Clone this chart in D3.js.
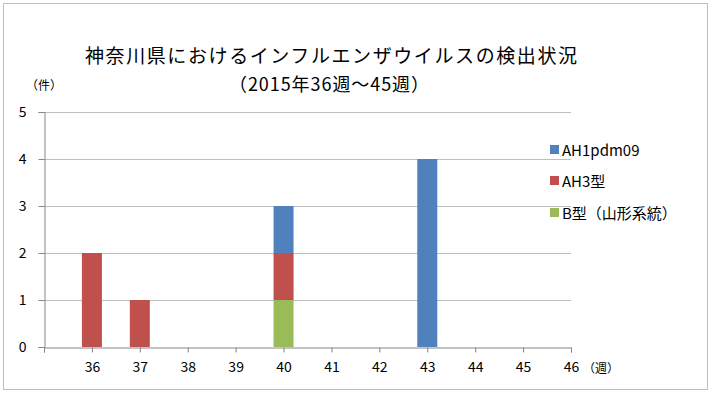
<!DOCTYPE html>
<html>
<head>
<meta charset="utf-8">
<script src="https://cdn.jsdelivr.net/npm/d3@7"></script>
<style>
  body { margin: 0; background: #fff; }
  text { font-family: "Noto Sans CJK JP", "Noto Sans", sans-serif; fill: #000; }
</style>
</head>
<body>
<svg id="chart" width="714" height="396"></svg>
<script>
const weeks = [36, 37, 38, 39, 40, 41, 42, 43, 44, 45];
const seriesNames = ['B型（山形系統）', 'AH3型', 'AH1pdm09'];
const bYamagata = [0, 0, 0, 0, 1, 0, 0, 0, 0, 0];
const ah3 = [2, 1, 0, 0, 1, 0, 0, 0, 0, 0];
const ah1pdm09 = [0, 0, 0, 0, 1, 0, 0, 4, 0, 0];
const xTicks = [36, 37, 38, 39, 40, 41, 42, 43, 44, 45, 46];
const yTicks = [0, 1, 2, 3, 4, 5];
const colors = ['#9bbb59', '#c0504d', '#4f81bd'];

const svg = d3.select('#chart');

// outer frame
svg.append('rect')
    .attr('x', 3.5).attr('y', 3.5)
    .attr('width', 704).attr('height', 386)
    .attr('fill', 'none').attr('stroke', '#bfbfbf');

const xScale = d3.scaleLinear().domain([35, 46]).range([44, 571]);
const yScale = d3.scaleLinear().domain([0, 5]).range([347, 112]);

// gridlines
svg.append('g')
    .selectAll('line')
    .data(yTicks.filter(d => d > 0))
    .enter()
    .append('line')
    .attr('x1', xScale(35)).attr('x2', xScale(46))
    .attr('y1', d => Math.round(yScale(d)) + 0.5)
    .attr('y2', d => Math.round(yScale(d)) + 0.5)
    .attr('stroke', '#bfbfbf');

// stacked bars
const rows = weeks.map((w, i) => ({ week: w, s0: bYamagata[i], s1: ah3[i], s2: ah1pdm09[i] }));
const stack = d3.stack().keys(['s0', 's1', 's2'])(rows);
const barW = 20;

svg.append('g')
    .selectAll('g')
    .data(stack)
    .enter()
    .append('g')
    .attr('fill', (d, i) => colors[i])
    .selectAll('rect')
    .data(d => d.filter(p => p[1] > p[0]))
    .enter()
    .append('rect')
    .attr('x', d => xScale(d.data.week) - barW / 2)
    .attr('y', d => yScale(d[1]))
    .attr('width', barW)
    .attr('height', d => yScale(d[0]) - yScale(d[1]));

// y-axis
const yAxis = svg.append('g')
    .attr('transform', `translate(${xScale(35) + 0.5},0)`)
    .call(d3.axisLeft(yScale).tickValues(yTicks).tickSize(6).tickPadding(12).tickFormat(d3.format('d')));
yAxis.select('.domain').attr('stroke', '#868686');
yAxis.selectAll('.tick line').attr('stroke', '#868686');
yAxis.selectAll('.tick text').attr('font-size', 14).style('fill', '#000');

// x-axis
const xAxis = svg.append('g')
    .attr('transform', `translate(0,${yScale(0) + 0.5})`)
    .call(d3.axisBottom(xScale).tickValues([35].concat(xTicks)).tickSize(5).tickPadding(10)
        .tickFormat(d => d === 35 ? '' : d));
xAxis.select('.domain').attr('stroke', '#868686');
xAxis.selectAll('.tick line').attr('stroke', '#868686');
xAxis.selectAll('.tick text').attr('font-size', 14).style('fill', '#000');

// axis labels
svg.append('text')
    .attr('x', 44).attr('y', 90)
    .attr('text-anchor', 'middle')
    .attr('font-size', 12)
    .text('（件）');

svg.append('text')
    .attr('x', 601).attr('y', 373)
    .attr('text-anchor', 'middle')
    .attr('font-size', 12)
    .text('（週）');

// title
svg.append('text')
    .attr('x', 331).attr('y', 63)
    .attr('text-anchor', 'middle')
    .attr('font-size', 19)
    .attr('textLength', 492)
    .attr('lengthAdjust', 'spacing')
    .text('神奈川県におけるインフルエンザウイルスの検出状況');

svg.append('text')
    .attr('x', 329).attr('y', 91)
    .attr('text-anchor', 'middle')
    .attr('font-size', 18)
    .attr('textLength', 200)
    .attr('lengthAdjust', 'spacing')
    .text('（2015年36週～45週）');

// legend
const legendY = [214, 182, 151];
const legend = svg.append('g')
    .selectAll('g')
    .data(seriesNames)
    .enter()
    .append('g')
    .attr('transform', (d, i) => `translate(550,${legendY[i]})`);

legend.append('rect')
    .attr('x', 0).attr('y', -6)
    .attr('width', 9).attr('height', 9)
    .attr('fill', (d, i) => colors[i]);

legend.append('text')
    .attr('x', 12).attr('y', 5)
    .attr('font-size', 15)
    .text(d => d);
</script>
</body>
</html>
